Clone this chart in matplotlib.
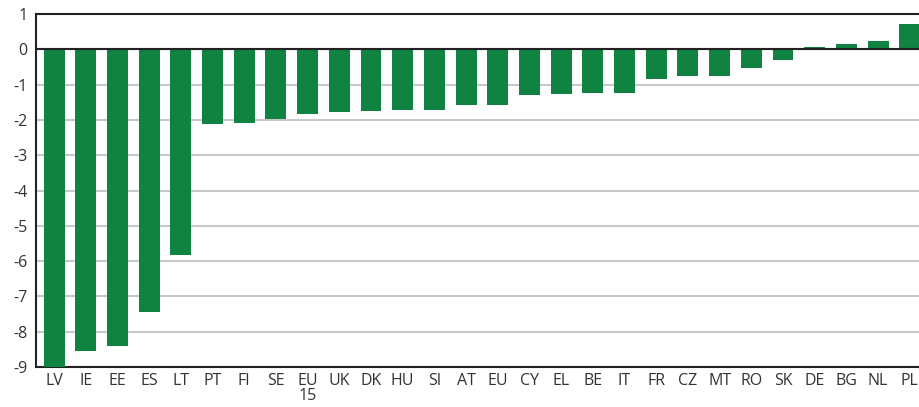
import numpy as np
import matplotlib.pyplot as plt

countries = ['LV', 'IE', 'EE', 'ES', 'LT', 'PT', 'FI', 'SE', 'EU\n15', 'UK', 'DK', 'HU',
             'SI', 'AT', 'EU', 'CY', 'EL', 'BE', 'IT', 'FR', 'CZ', 'MT', 'RO', 'SK',
             'DE', 'BG', 'NL', 'PL']
values = [-9.0, -8.54, -8.40, -7.44, -5.84, -2.12, -2.09, -1.98, -1.84, -1.78, -1.75, -1.72,
          -1.72, -1.58, -1.58, -1.30, -1.27, -1.25, -1.25, -0.85, -0.77, -0.77, -0.54, -0.29,
          0.07, 0.15, 0.24, 0.72]

plt.rcParams['font.family'] = ['Open Sans', 'DejaVu Sans']
plt.rcParams['axes.unicode_minus'] = False

fig = plt.figure(figsize=(9.19, 4.07), dpi=100)
ax = fig.add_axes([36 / 919, 1 - 367 / 407, (919 - 36) / 919, (367 - 14) / 407])

x = np.arange(len(countries))
ax.bar(x, values, width=0.66, color='#108242', zorder=3)

ax.set_ylim(-9, 1)
ax.set_yticks(range(-9, 2))
ax.set_xlim(-0.57, 27.29)
ax.set_xticks(x)
ax.set_xticklabels(countries, linespacing=0.95)

ax.yaxis.grid(True, color='#c8c8c8', linewidth=1.5, zorder=0)
ax.axhline(0, color='#222222', linewidth=1.5, zorder=4)

for side in ['top', 'left', 'bottom']:
    ax.spines[side].set_color('#222222')
    ax.spines[side].set_linewidth(1.5)
ax.spines['right'].set_visible(False)

ax.tick_params(axis='both', length=0, labelsize=11.5, colors='#333333')
ax.tick_params(axis='x', pad=4)
ax.tick_params(axis='y', pad=6)

fig.savefig('out.png', dpi=100)
